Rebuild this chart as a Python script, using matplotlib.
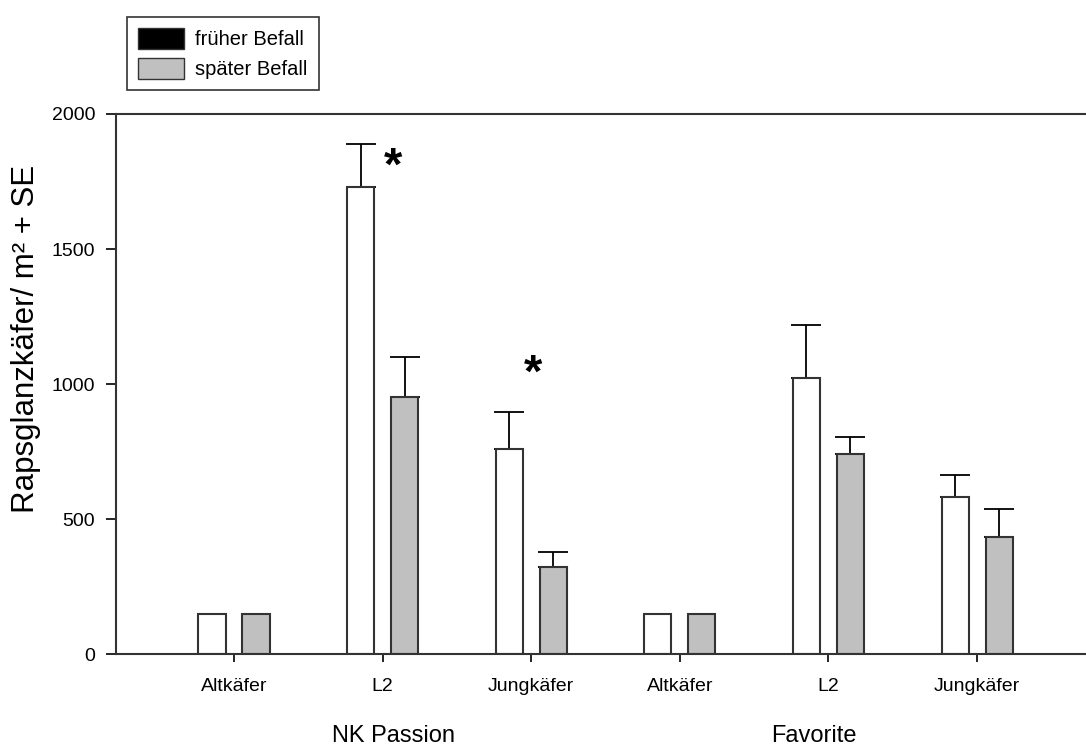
import numpy as np
import matplotlib
matplotlib.use('Agg')
import matplotlib.pyplot as plt
from matplotlib.patches import Patch
from matplotlib.transforms import blended_transform_factory

plt.rcParams['font.family'] = ['Liberation Sans', 'DejaVu Sans']

stadien = ['Altkäfer', 'L2', 'Jungkäfer', 'Altkäfer', 'L2', 'Jungkäfer']
sorten = ['NK Passion', 'Favorite']

# Mittelwerte und SE (nur nach oben), Reihenfolge wie stadien
frueh = [150, 1728, 760, 150, 1023, 580]
frueh_se = [0, 161, 136, 0, 197, 82]
spaet = [150, 952, 322, 150, 742, 434]
spaet_se = [0, 147, 56, 0, 62, 102]

# signifikante Unterschiede (x-Position, Höhe des Sterns)
sterne = [(1.07, 1800), (2.01, 1033)]

kante = '#333333'
grau = '#c0c0c0'

fig = plt.figure(figsize=(10.86, 7.49), dpi=100)
ax = fig.add_axes([0.1068, 0.1268, 0.8932, 0.721])

x = np.arange(len(stadien))
breite = 0.182
versatz = 0.148

ax.bar(x - versatz, frueh, breite, color='white', edgecolor=kante, linewidth=1.5, zorder=2)
ax.bar(x + versatz, spaet, breite, color=grau, edgecolor=kante, linewidth=1.5, zorder=2)

for pos, werte, se in [(x - versatz, frueh, frueh_se), (x + versatz, spaet, spaet_se)]:
    se = np.array(se)
    m = se > 0
    ax.errorbar(pos[m], np.array(werte)[m], yerr=[np.zeros(m.sum()), se[m]],
                fmt='none', ecolor='black', elinewidth=1.3, capsize=11, capthick=1.3, zorder=1)

for xs, h in sterne:
    ax.text(xs, h, '*', ha='center', va='center', fontsize=34, fontweight='bold')

ax.set_xlim(-0.794, 5.733)
ax.set_ylim(0, 2000)
ax.set_yticks([0, 500, 1000, 1500, 2000])
ax.set_xticks(x)
ax.set_xticklabels(stadien)
ax.tick_params(axis='y', direction='out', length=7, width=1.2, pad=8, labelsize=14, colors='black')
ax.tick_params(axis='x', direction='out', length=6, width=1.2, pad=11, labelsize=14, colors='black')

for s in ['left', 'bottom', 'top']:
    ax.spines[s].set_color(kante)
    ax.spines[s].set_linewidth(1.5)
ax.spines['right'].set_visible(False)

ax.set_ylabel('Rapsglanzkäfer/ m² + SE', fontsize=22.5, labelpad=10)
ax.yaxis.set_label_coords(-0.077, 0.584)

trans = blended_transform_factory(ax.transData, ax.transAxes)
ax.text(1.07, -0.152, sorten[0], transform=trans, ha='center', va='center', fontsize=17)
ax.text(3.9, -0.152, sorten[1], transform=trans, ha='center', va='center', fontsize=17)

handles = [Patch(facecolor='black', edgecolor=kante, label='früher Befall'),
           Patch(facecolor=grau, edgecolor=kante, label='später Befall')]
leg = fig.legend(handles=handles, loc='upper left', bbox_to_anchor=(127 / 1086, 1 - 17 / 749),
                 frameon=True, fancybox=False, edgecolor='black', fontsize=14.5,
                 handlelength=2.3, handleheight=1.25, handletextpad=0.55, labelspacing=0.4,
                 borderpad=0.55, borderaxespad=0)
leg.get_frame().set_linewidth(1.2)

fig.savefig('out.png', dpi=100)
